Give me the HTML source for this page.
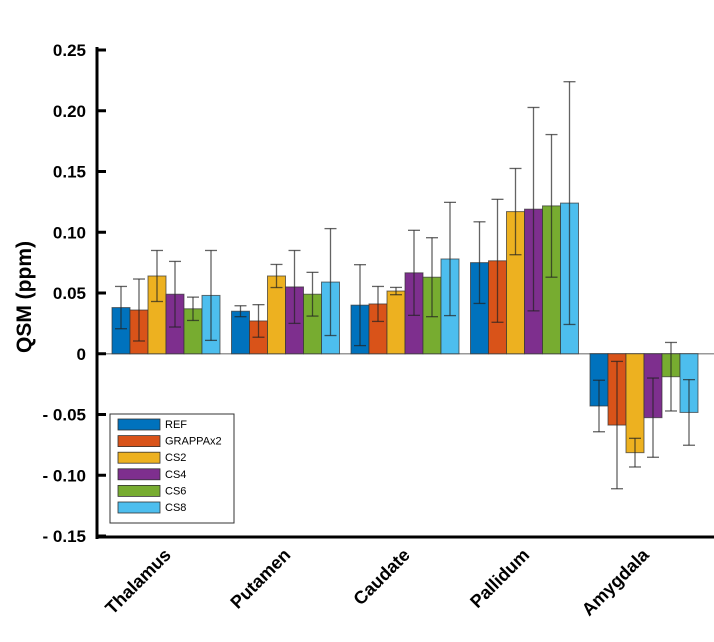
<!DOCTYPE html>
<html><head><meta charset="utf-8"><style>
body{margin:0;background:#fff}
svg{display:block;font-family:"Liberation Sans",Arial,sans-serif}
</style></head><body>
<svg id="chart" width="714" height="642" viewBox="0 0 714 642"></svg>
<script>
const categories=["Thalamus","Putamen","Caudate","Pallidum","Amygdala"];
const seriesNames=["REF","GRAPPAx2","CS2","CS4","CS6","CS8"];
const colors=["#0072bd","#d95319","#edb120","#7e2f8e","#77ac30","#4dbeee"];
const refVals=[0.038,0.035,0.040,0.075,-0.043];
const grappaVals=[0.036,0.027,0.041,0.0765,-0.0587];
const cs2Vals=[0.064,0.064,0.0516,0.117,-0.0814];
const cs4Vals=[0.049,0.055,0.0666,0.119,-0.0526];
const cs6Vals=[0.037,0.049,0.063,0.1217,-0.0189];
const cs8Vals=[0.048,0.059,0.078,0.124,-0.0483];
const refErr=[0.0174,0.0045,0.0333,0.0336,0.0212];
const grappaErr=[0.0255,0.0134,0.0144,0.0506,0.0524];
const cs2Err=[0.021,0.0095,0.003,0.0355,0.0118];
const cs4Err=[0.027,0.030,0.035,0.0837,0.0326];
const cs6Err=[0.0096,0.018,0.0325,0.0587,0.0282];
const cs8Err=[0.037,0.044,0.0466,0.0999,0.027];
const yTicks=[-0.15,-0.10,-0.05,0,0.05,0.10,0.15,0.20,0.25];
const yTickLabels=["- 0.15","- 0.10","- 0.05","0","0.05","0.10","0.15","0.20","0.25"];

const vals=[refVals,grappaVals,cs2Vals,cs4Vals,cs6Vals,cs8Vals];
const errs=[refErr,grappaErr,cs2Err,cs4Err,cs6Err,cs8Err];
const svg=document.getElementById('chart');
const NS="http://www.w3.org/2000/svg";
const yMin=-0.15,yMax=0.25,yTop=50,yBot=536;
const y=v=>yBot-(v-yMin)/(yMax-yMin)*(yBot-yTop);
const x0=166,step=119.5,barW=18;
const x=i=>x0+i*step;
function mk(t,a,parent){const e=document.createElementNS(NS,t);for(const k in a)e.setAttribute(k,a[k]);(parent||svg).appendChild(e);return e;}

const zl=mk('line',{x1:97,x2:714,y1:y(0),y2:y(0),stroke:'#999','stroke-width':1.5});



for(let s=0;s<vals.length;s++){
  for(let i=0;i<categories.length;i++){
    const v=vals[s][i];const cx=x(i)+(s-2.5)*barW;
    const r=mk('rect',{x:cx-barW/2,y:Math.min(y(v),y(0)),width:barW,height:Math.abs(y(v)-y(0)),fill:colors[s],stroke:'#333','stroke-width':1,'stroke-opacity':0.7});
    
    
  }
}
for(let s=0;s<vals.length;s++){
  for(let i=0;i<categories.length;i++){
    const v=vals[s][i],e=errs[s][i];const cx=x(i)+(s-2.5)*barW;
    const g=mk('g',{stroke:'#222','stroke-opacity':0.7,'stroke-width':1.3});
    
    
    mk('line',{x1:cx,x2:cx,y1:y(v+e),y2:y(v-e)},g);
    mk('line',{x1:cx-6,x2:cx+6,y1:y(v+e),y2:y(v+e)},g);
    mk('line',{x1:cx-6,x2:cx+6,y1:y(v-e),y2:y(v-e)},g);
  }
}
const ya=mk('line',{x1:97,x2:97,y1:47,y2:539,stroke:'#000','stroke-width':3});


const xa=mk('line',{x1:96,x2:714,y1:537,y2:537,stroke:'#000','stroke-width':3});


for(let k=0;k<yTicks.length;k++){
  const ty=y(yTicks[k]);
  const t=mk('line',{x1:97,x2:106,y1:ty,y2:ty,stroke:'#000','stroke-width':3});
  
  
  const l=mk('text',{x:86,y:ty+6,'text-anchor':'end','font-size':17,'font-weight':'bold'});
  l.textContent=yTickLabels[k];
  
  
}
for(let i=0;i<categories.length;i++){
  const tx=x(i)+6,ty=556;
  const l=mk('text',{x:tx,y:ty,'text-anchor':'end','font-size':18,'font-weight':'bold',transform:`rotate(-45 ${tx} ${ty})`});
  l.textContent=categories[i];
  
  
}
const yt=mk('text',{x:31,y:297,'text-anchor':'middle','font-size':21,'font-weight':'bold',transform:'rotate(-90 31 297)'});
yt.textContent='QSM (ppm)';



const lg=mk('g',{});


mk('rect',{x:110,y:414,width:124,height:109,fill:'#fff',stroke:'#333','stroke-width':1},lg);
for(let s=0;s<seriesNames.length;s++){
  const ey=424+s*16.6;
  const g=mk('g',{},lg);
  
  
  mk('rect',{x:118,y:ey-5,width:42,height:11,fill:colors[s],stroke:'#333','stroke-width':0.8},g);
  const t=mk('text',{x:165,y:ey+4,'font-size':11},g);
  t.textContent=seriesNames[s];
}
</script>
</body></html>
